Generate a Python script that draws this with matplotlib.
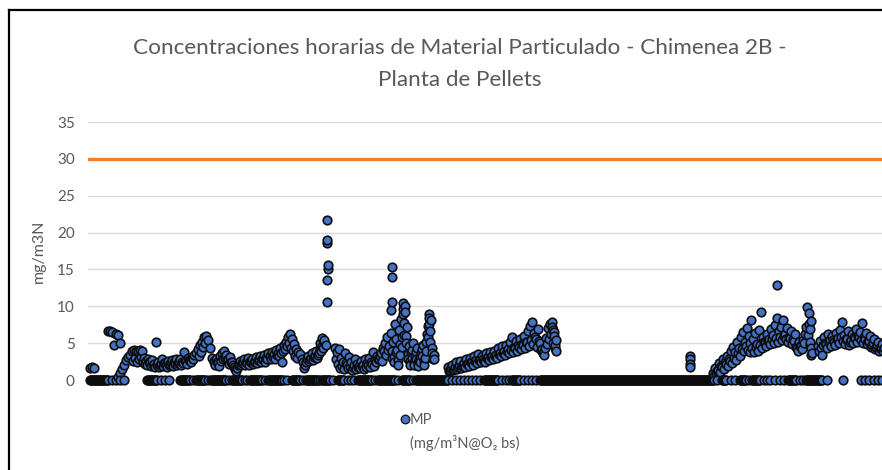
import numpy as np
import matplotlib
matplotlib.use("Agg")
import matplotlib.pyplot as plt
from matplotlib.lines import Line2D

# ---------------- text ----------------
title_text = "Concentraciones horarias de Material Particulado - Chimenea 2B -\nPlanta de Pellets"
y_label = "mg/m3N"
series_name = "MP"
series_unit = "(mg/m³N@O₂ bs)"
y_ticks = [0, 5, 10, 15, 20, 25, 30, 35]
limit_value = 30

# ---------------- data (hour index, MP readings) ----------------
# readings every 2 h inside each run: (first hour, values)
main_runs = [
    (90, [1.6, 1.7, 1.6]),
    (108, [6.6, 6.7, 6.5, 4.8, 6.3, 6.1, 5.0]),
    (118, [0.4, 0.9, 1.5, 2.1, 2.7, 3.1, 3.4]),
    (132, [4.0, 4.1, 3.9, 4.0, 4.1, 4.0]),
    (144, [3.0, 2.6, 2.9, 2.4, 2.7, 2.2, 5.2, 2.5, 2.1, 2.8, 2.3, 2.0, 2.6,
           2.2, 2.7, 2.4, 2.9, 2.3, 2.8, 2.5, 3.8, 2.7, 3.0, 2.6, 3.1, 3.4]),
    (196, [3.6, 4.2, 4.7, 5.2, 5.8, 6.0, 5.4, 4.3, 3.0, 2.6]),
    (214, [2.4, 2.9, 2.3, 3.2, 3.6, 3.9, 3.4, 2.8, 3.1, 2.5, 1.8, 1.2, 2.0, 2.6,
           2.3, 2.8, 2.5, 3.0, 2.6, 2.9, 2.4, 3.1, 2.7, 3.3, 2.9, 3.4, 3.0, 3.6]),
    (270, [3.3, 3.8, 3.5, 4.1, 3.7, 4.4, 2.4, 4.8, 5.2, 5.9, 6.3, 5.6, 4.9, 4.2, 3.8, 3.5]),
    (302, [2.9, 1.6, 2.5, 3.3, 2.8, 3.6, 3.1, 3.9, 3.4, 4.2, 4.6, 5.1]),
    (320, [5.0, 5.7, 5.4, 4.8]),
    (335, [4.4, 3.8, 4.2, 3.0, 2.4, 3.6, 2.0, 3.1, 2.5, 1.7, 2.8, 2.2, 1.9, 2.6,
           2.1, 2.9, 2.3, 3.0, 2.5, 3.8, 2.7, 3.3, 2.9, 3.7, 4.4, 5.0, 5.8, 4.6]),
    (391, [6.4, 5.2, 7.6, 4.1, 6.8, 8.3, 10.4, 10.1, 7.2, 4.6, 3.8, 5.0, 3.2, 4.4,
           2.9, 3.6, 4.8, 3.0, 6.2, 9.0, 8.1, 2.8]),
    (448, [1.8, 1.4, 2.1, 1.5, 2.4, 1.7, 2.6, 1.9, 2.3, 2.8,
           2.2, 3.0, 2.5, 3.3, 2.7, 3.5, 2.9, 3.2, 2.6, 3.6,
           3.1, 3.8, 3.3, 4.0, 3.4, 4.3, 3.7, 4.6, 3.9, 4.8,
           4.2, 5.1, 5.8, 4.5, 5.3, 4.7, 5.6, 4.9, 6.0, 5.2,
           6.6, 7.3, 7.9, 6.4, 5.5, 6.9, 5.0, 4.2, 3.4, 5.7,
           7.0, 7.6, 7.9, 6.5, 5.4]),
    (713, [0.9, 1.6, 1.2, 2.3, 1.9, 2.8, 2.4, 3.3, 2.9, 3.9,
           4.5, 3.8, 5.1, 4.4, 5.8, 6.5, 5.2, 7.1, 6.0, 8.1,
           5.5, 6.4, 4.9, 6.8, 9.2, 5.8, 5.0, 6.2, 5.6, 6.9,
           6.1, 7.4, 8.4, 6.6, 7.2, 8.1, 6.3, 7.0, 5.9, 6.7,
           5.5, 6.2, 4.3, 5.1, 4.6, 5.4, 6.3, 9.9, 9.1, 8.0]),
    (818, [4.6, 5.3, 3.4, 5.8, 4.9, 6.2, 5.4, 6.0, 5.1, 6.4,
           5.7, 6.8, 7.9, 6.1, 5.5, 6.6, 5.2, 6.3, 5.8, 6.9,
           6.0, 6.5, 7.7, 5.9, 6.4, 5.3, 6.0, 4.8, 5.6, 4.5,
           5.2, 4.3, 4.9, 4.4]),
]

# the in-between hours (odd hours) of the same periods
second_runs = [
    (133, [2.6, 3.0, 2.4, 2.8, 3.1, 2.5]),
    (145, [2.2, 2.0, 2.4, 1.9, 2.1, 1.8, 2.0, 1.7, 2.2, 1.9, 2.3, 1.8, 2.1,
           2.4, 1.9, 2.2, 2.0, 2.5, 2.1, 2.3, 2.6, 2.2, 2.7, 2.4, 2.8]),
    (199, [3.3, 3.8, 4.5, 5.0]),
    (215, [2.0, 2.4, 1.9, 2.6, 2.9, 3.0, 2.7, 2.2, 2.5, 2.0, 1.5, 1.6, 2.2, 2.0,
           2.4, 2.1, 2.3, 2.0, 2.5, 2.2, 2.6, 2.3, 2.7, 2.4, 2.8, 2.5, 2.9]),
    (271, [2.8, 3.1, 2.9, 3.4, 3.2, 3.6, 3.9, 4.2, 4.6, 5.0, 4.4, 3.9, 3.3, 3.0]),
    (303, [2.4, 2.1, 2.9, 2.6, 3.0, 2.7, 3.3, 3.0, 3.7, 4.0, 4.4]),
    (336, [2.9, 2.2, 1.6, 1.9, 1.5, 2.3, 1.6, 1.8, 1.4, 2.0, 1.5, 1.7, 1.6, 1.9,
           1.5, 1.8, 2.0, 1.7, 2.2, 1.9, 2.4, 2.8, 3.2, 2.6, 3.9, 3.4, 4.1]),
    (392, [4.0, 3.1, 5.5, 2.7, 4.9, 5.9, 7.8, 6.0, 3.5, 2.6, 4.1, 2.5, 3.8, 2.3,
           3.0, 4.2, 2.6, 5.1, 7.3, 6.6, 4.4, 3.4]),
    (392, [3.0, 2.4, 3.8, 2.0, 3.4, 4.5, 6.1, 5.0, 2.9, 2.1, 3.0, 2.0, 2.8, 1.9,
           2.4, 3.2, 2.0, 4.0, 5.8, 5.2, 3.7, 2.9]),
    (449, [1.2, 1.6, 1.3, 1.8, 1.5, 2.0, 1.6, 2.1, 1.8, 2.2,
           1.9, 2.4, 2.1, 2.6, 2.3, 2.7, 2.4, 2.9, 2.5, 3.0,
           2.7, 3.1, 2.8, 3.3, 3.0, 3.5, 3.2, 3.7, 3.4, 3.9,
           3.6, 4.1, 3.8, 4.3, 4.0, 4.5, 4.2, 4.8, 4.4, 5.1,
           4.6, 5.4, 4.9, 5.8, 4.5, 5.3, 4.1, 3.7, 4.4, 4.9,
           5.6, 6.2, 5.0, 4.3]),
    (714, [0.6, 1.0, 1.4, 1.1, 1.8, 1.5, 2.2, 1.9, 2.6, 2.3,
           3.0, 2.7, 3.7, 3.3, 4.2, 3.9, 4.6, 4.1, 5.0, 4.4,
           3.8, 4.5, 4.0, 4.8, 4.3, 5.1, 4.6, 5.3, 4.9, 5.5,
           5.0, 5.7, 5.2, 5.9, 5.4, 6.0, 5.6, 5.1, 5.7, 4.9,
           5.3, 4.5, 4.0, 4.6, 4.2, 5.0, 7.2, 6.1, 4.8, 3.6]),
    (819, [4.0, 4.4, 4.7, 5.0, 4.3, 5.2, 4.6, 5.4, 4.8, 5.6,
           5.0, 5.8, 5.3, 4.9, 5.6, 4.7, 5.4, 5.0, 5.7, 5.2,
           5.8, 5.4, 5.0, 5.6, 4.9, 5.3, 4.5, 5.0, 4.2, 4.7,
           4.0, 4.5, 3.9]),
]

# several readings shown at (nearly) the same hour: peaks and columns
peak_hours = [327, 327, 328, 328, 327, 327, 327,
              392, 392, 392, 391,
              403, 403, 405, 429, 429,
              552, 553, 554, 555, 556,
              690, 690, 690, 690,
              750, 777,
              809, 810, 810, 811, 811]
peak_values = [10.6, 13.6, 15.1, 15.6, 18.6, 19.0, 21.7,
               15.3, 14.0, 10.6, 9.5,
               9.6, 8.9, 9.2, 8.4, 7.6,
               7.2, 6.8, 6.0, 4.8, 4.0,
               3.3, 2.8, 2.2, 1.7,
               3.8, 12.9,
               7.6, 6.9, 5.2, 4.4, 3.4]

# hours with 0 readings: continuous stretches (first, last) and single hours
zero_stretches = [(90, 108), (147, 157), (180, 190), (196, 205), (211, 226),
                  (232, 242), (250, 262), (268, 282), (292, 300), (306, 318),
                  (322, 330), (338, 344), (358, 372), (378, 395), (402, 410),
                  (416, 448), (484, 498), (512, 520), (540, 714), (722, 726),
                  (740, 746), (752, 760), (788, 796), (806, 822)]
zero_single = [112, 116, 120, 124, 161, 165, 169, 193, 208, 229, 245, 247, 265,
               284, 287, 303, 320, 333, 348, 351, 354, 375, 398, 413, 452, 456,
               460, 464, 468, 472, 476, 480, 502, 506, 509, 524, 528, 532, 536,
               717, 731, 735, 749, 764, 767, 770, 775, 780, 784, 800, 803, 827,
               843, 861, 865, 869, 874, 878, 882]

# ---------------- assemble ----------------
hours, values = [], []
for start, vals in main_runs + second_runs:
    for i, v in enumerate(vals):
        hours.append(start + 2 * i)
        values.append(v)
hours += peak_hours
values += peak_values
for a, b in zero_stretches:
    for h in range(a, b + 1):
        hours.append(h)
        values.append(0.0)
for h in zero_single:
    hours.append(h)
    values.append(0.0)
hours = np.array(hours, dtype=float)
values = np.array(values)
order = np.argsort(hours, kind="stable")
hours, values = hours[order], values[order]

# ---------------- figure ----------------
W, H = 882, 470
fig = plt.figure(figsize=(W / 100, H / 100), dpi=100)
fig.patch.set_facecolor("white")

font = ["Lato", "DejaVu Sans"]
grey = "#595959"

ax = fig.add_axes([88 / W, (H - 380) / H, 1 - 88 / W, 258 / H])
ax.set_xlim(88, 882)
ax.set_ylim(0, 35)
ax.set_yticks(y_ticks)
ax.set_yticklabels([str(t) for t in y_ticks], family=font, fontsize=11, color=grey)
ax.tick_params(axis="y", length=0, pad=9.5)
ax.set_xticks([])
for s in ax.spines.values():
    s.set_visible(False)
ax.grid(axis="y", color="#D9D9D9", linewidth=1.0)
ax.set_axisbelow(True)

ax.axhline(limit_value, color="#ED7D31", linewidth=2.4, zorder=2)

sc = ax.scatter(hours, values, s=38, c="#4472C4", edgecolors="#0d0d0d",
                linewidths=1.2, zorder=3, clip_on=False)

ax.set_ylabel(y_label, family=font, fontsize=11.5, color=grey)
ax.yaxis.set_label_coords(-0.053, 0.5)

fig.text(460 / W, 1 - 64.5 / H, title_text, ha="center", va="center",
         family=font, fontsize=16.2, color=grey, linespacing=1.75)

# legend
fig.add_artist(Line2D([405 / W], [1 - 419 / H], marker="o", markersize=6.2,
                      markerfacecolor="#4472C4", markeredgecolor="#111111",
                      markeredgewidth=0.9, linestyle="none"))
fig.text(410 / W, 1 - 420 / H, series_name, ha="left", va="center",
         family=font, fontsize=10.5, color=grey)
fig.text(410 / W, 1 - 443 / H, series_unit, ha="left", va="center",
         family=font, fontsize=10.5, color=grey)

# chart frame (cut at right/bottom)
fig.add_artist(Line2D([9 / W, 9 / W], [0, 1 - 10 / H], color="black", linewidth=1.6))
fig.add_artist(Line2D([9 / W, 1], [1 - 10 / H, 1 - 10 / H], color="black", linewidth=1.6))

fig.savefig("out.png", dpi=100, facecolor="white")
